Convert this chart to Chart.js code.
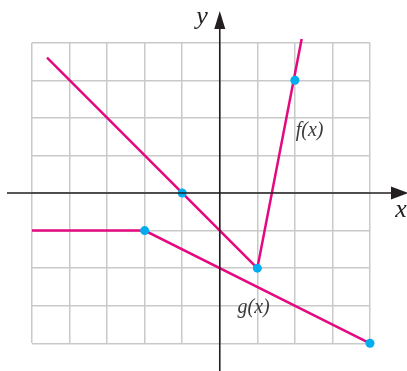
<!DOCTYPE html>
<html lang="en">
<head>
    <meta charset="UTF-8">
    <title>f(x) and g(x)</title>
    <script src="https://cdn.jsdelivr.net/npm/chart.js"></script>
    <style>
        html, body { margin: 0; padding: 0; background: #fff; }
        #wrap { width: 407px; height: 371px; position: relative; }
    </style>
</head>
<body>
    <div id="wrap"><canvas id="graph"></canvas></div>

    <script>
        // f(x): pieces
        const fX = [-4.6, 1, 2.18];
        const fY = [3.6, -2, 4.1];
        // g(x)
        const gX = [-5, -2, 4];
        const gY = [-1, -1, -4];
        // highlighted points
        const dotX = [-1, 1, 2, -2, 4];
        const dotY = [0, -2, 3, -1, -4];

        const toPoints = (xs, ys) => xs.map((x, i) => ({ x: x, y: ys[i] }));

        const pink = '#e5097f';
        const cyan = '#00aeef';

        // axes with arrows + curve labels
        const axesPlugin = {
            id: 'axesPlugin',
            afterDatasetsDraw(chart) {
                const c = chart.ctx;
                const sx = chart.scales.x, sy = chart.scales.y;
                const x0 = sx.getPixelForValue(0);
                const y0 = sy.getPixelForValue(0);
                c.save();
                c.strokeStyle = '#231f20';
                c.fillStyle = '#231f20';
                c.lineWidth = 1.6;
                // x axis
                c.beginPath();
                c.moveTo(7, y0);
                c.lineTo(394, y0);
                c.stroke();
                c.beginPath();
                c.moveTo(408, y0);
                c.lineTo(391, y0 - 6.5);
                c.lineTo(391, y0 + 6.5);
                c.closePath();
                c.fill();
                // y axis
                c.beginPath();
                c.moveTo(x0, 371);
                c.lineTo(x0, 26);
                c.stroke();
                c.beginPath();
                c.moveTo(x0, 11);
                c.lineTo(x0 - 5.5, 29);
                c.lineTo(x0 + 5.5, 29);
                c.closePath();
                c.fill();

                c.textAlign = 'center';
                c.textBaseline = 'middle';
                c.font = 'italic 26px "Liberation Serif", serif';
                c.fillText('y', 202, 17);
                c.fillText('x', 401, 210);

                c.fillStyle = '#3a3a3a';
                c.font = 'italic 20px "Liberation Serif", serif';
                c.fillText('f(x)', sx.getPixelForValue(2.39), sy.getPixelForValue(1.66));
                c.fillText('g(x)', sx.getPixelForValue(0.9), sy.getPixelForValue(-3.05));
                c.restore();
            }
        };

        new Chart(document.getElementById('graph'), {
            type: 'scatter',
            data: {
                datasets: [
                    {
                        label: 'f(x)',
                        data: toPoints(fX, fY),
                        showLine: true,
                        borderColor: pink,
                        borderWidth: 2.5,
                        pointRadius: 0,
                        clip: false,
                        order: 2
                    },
                    {
                        label: 'g(x)',
                        data: toPoints(gX, gY),
                        showLine: true,
                        borderColor: pink,
                        borderWidth: 2.5,
                        pointRadius: 0,
                        clip: false,
                        order: 2
                    },
                    {
                        label: 'points',
                        data: toPoints(dotX, dotY),
                        showLine: false,
                        backgroundColor: cyan,
                        borderColor: cyan,
                        pointRadius: 4.5,
                        pointBorderWidth: 0,
                        clip: false,
                        order: 1
                    }
                ]
            },
            options: {
                responsive: true,
                maintainAspectRatio: false,
                animation: false,
                layout: {
                    padding: { left: 32, right: 37, top: 42.7, bottom: 27.7 }
                },
                plugins: {
                    legend: { display: false },
                    tooltip: { enabled: false }
                },
                scales: {
                    x: {
                        type: 'linear',
                        min: -5,
                        max: 4,
                        ticks: { display: false, stepSize: 1 },
                        grid: { color: '#c9c9c9', lineWidth: 1.5, drawTicks: false },
                        border: { display: false }
                    },
                    y: {
                        type: 'linear',
                        min: -4,
                        max: 4,
                        ticks: { display: false, stepSize: 1 },
                        grid: { color: '#c9c9c9', lineWidth: 1.5, drawTicks: false },
                        border: { display: false }
                    }
                }
            },
            plugins: [axesPlugin]
        });
    </script>
</body>
</html>
